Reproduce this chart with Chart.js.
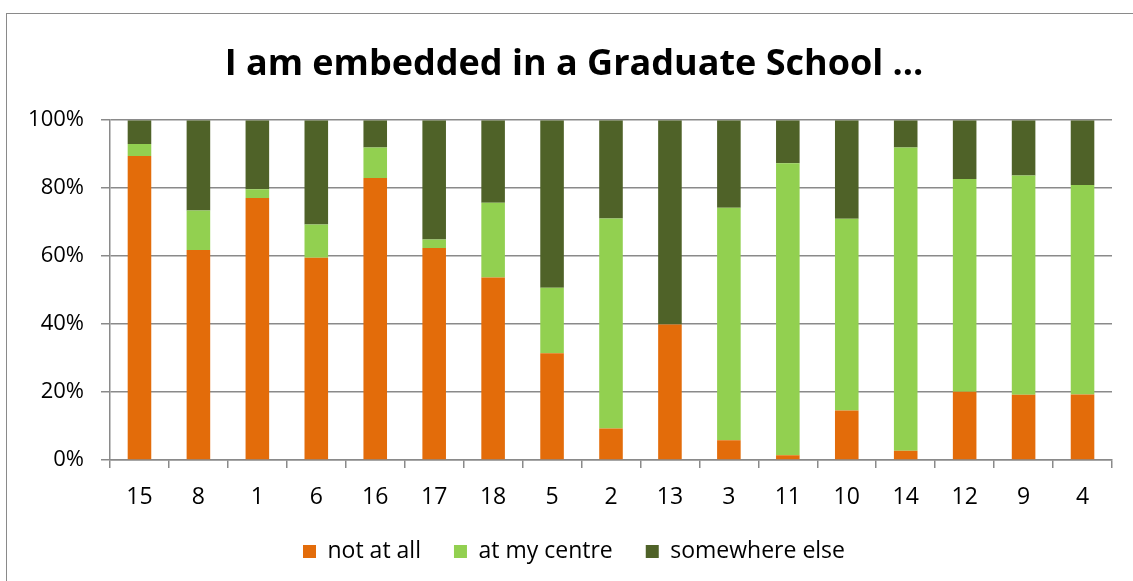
<!DOCTYPE html>
<html>
<head>
<meta charset="utf-8">
<script src="https://cdn.jsdelivr.net/npm/chart.js@4"></script>
<style>
  html, body { margin: 0; padding: 0; background: #fff; overflow: hidden; }
  #wrap { position: relative; width: 1133px; height: 581px; }
  #frame { position: absolute; left: 6px; top: 13px; width: 1140px; height: 600px; border: 1.5px solid #8a8a8a; box-sizing: border-box; }
  canvas { position: absolute; left: 0; top: 0; }
</style>
</head>
<body>
<div id="wrap">
  <div id="frame"></div>
  <canvas id="chartCanvas" width="1133" height="581"></canvas>
</div>
<script>
// categories as they appear on the x axis
const groups = ["15", "8", "1", "6", "16", "17", "18", "5", "2", "13", "3", "11", "10", "14", "12", "9", "4"];

// shares in percent
const notAtAll = [89.5, 61.8, 77.1, 59.5, 83.0, 62.4, 53.7, 31.4, 9.3, 39.9, 5.8, 1.4, 14.6, 2.7, 20.1, 19.2, 19.3];
const atMyCentre = [3.5, 11.6, 2.6, 9.8, 9.0, 2.5, 22.0, 19.3, 61.8, 0, 68.4, 85.9, 56.4, 89.3, 62.6, 64.5, 61.6];
const somewhereElse = [7.0, 26.6, 20.3, 30.7, 8.0, 35.1, 24.3, 49.3, 28.9, 60.1, 25.8, 12.7, 29.0, 8.0, 17.3, 16.3, 19.1];

const yTicks = [0, 20, 40, 60, 80, 100];

const font = "'Open Sans', 'Noto Sans', sans-serif";
const gridGray = "#8a8a8a";

// the y labels stick out left of the padded box, so let the scale reach the canvas edge
const widenYAxis = {
  id: "widenYAxis",
  afterLayout: chart => { chart.scales.y.left = 0; }
};

const ctx = document.getElementById("chartCanvas").getContext("2d");
new Chart(ctx, {
  type: "bar",
  data: {
    labels: groups,
    datasets: [
      { label: "not at all", data: notAtAll, backgroundColor: "#E36C0A" },
      { label: "at my centre", data: atMyCentre, backgroundColor: "#92D050" },
      { label: "somewhere else", data: somewhereElse, backgroundColor: "#4F6228" }
    ]
  },
  plugins: [widenYAxis],
  options: {
    responsive: false,
    animation: false,
    devicePixelRatio: 1,
    layout: { padding: { left: 36, right: 21, top: 0, bottom: 8 } },
    datasets: { bar: { categoryPercentage: 1, barPercentage: 0.4, borderWidth: 0 } },
    plugins: {
      title: {
        display: true,
        text: "I am embedded in a Graduate School ...",
        color: "#000",
        font: { family: font, size: 36, weight: "bold" },
        padding: { top: 43, bottom: 34 }
      },
      legend: {
        position: "bottom",
        labels: {
          color: "#000",
          font: { family: font, size: 23 },
          boxWidth: 13,
          boxHeight: 13,
          padding: 33
        }
      },
      tooltip: { enabled: false }
    },
    scales: {
      x: {
        stacked: true,
        grid: {
          offset: true,
          drawOnChartArea: false,
          drawTicks: true,
          tickLength: 8,
          color: gridGray,
          lineWidth: 1.5
        },
        border: { color: gridGray, width: 1.5 },
        ticks: { color: "#000", font: { family: font, size: 23 }, padding: 16, maxRotation: 0 },
        afterFit: s => { s.height = 47; }
      },
      y: {
        stacked: true,
        min: 0,
        max: 100,
        afterBuildTicks: s => { s.ticks = yTicks.map(v => ({ value: v })); },
        grid: { color: gridGray, lineWidth: 1.5, tickLength: 9 },
        border: { color: gridGray, width: 1.5 },
        ticks: {
          color: "#000",
          font: { family: font, size: 22 },
          padding: 17,
          callback: v => v + "%"
        },
        afterFit: s => { s.width = 74; }
      }
    }
  }
});
</script>
</body>
</html>
